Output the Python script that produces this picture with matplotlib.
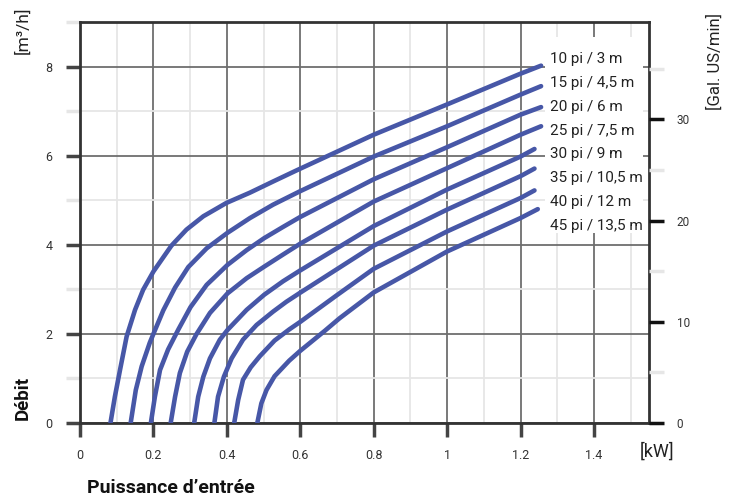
import numpy as np
import matplotlib.pyplot as plt
from matplotlib.patches import Rectangle

plt.rcParams['font.family'] = ['Roboto', 'DejaVu Sans']

# power [kW] and flow [m3/h], one pair per head
labels = ['10 pi / 3 m', '15 pi / 4,5 m', '20 pi / 6 m', '25 pi / 7,5 m',
          '30 pi / 9 m', '35 pi / 10,5 m', '40 pi / 12 m', '45 pi / 13,5 m']

kw_10 = [0.083, 0.095, 0.109, 0.127, 0.150, 0.172, 0.200, 0.227, 0.249, 0.290, 0.336,
         0.399, 0.463, 0.526, 0.590, 0.8, 1.0, 1.2, 1.256]
q_10 = [0, 0.59, 1.19, 1.94, 2.54, 2.99, 3.40, 3.72, 3.98, 4.34, 4.64,
        4.94, 5.17, 5.42, 5.67, 6.47, 7.15, 7.84, 8.02]

kw_15 = [0.138, 0.152, 0.168, 0.190, 0.201, 0.227, 0.259, 0.295, 0.345, 0.402, 0.463,
         0.526, 0.599, 0.8, 1.0, 1.2, 1.256]
q_15 = [0, 0.74, 1.27, 1.80, 2.02, 2.53, 3.04, 3.50, 3.92, 4.27, 4.60,
        4.90, 5.20, 5.98, 6.66, 7.37, 7.56]

kw_20 = [0.193, 0.204, 0.218, 0.240, 0.268, 0.301, 0.345, 0.402, 0.454, 0.502, 0.553,
         0.599, 0.8, 1.0, 1.2, 1.256]
q_20 = [0, 0.59, 1.19, 1.65, 2.10, 2.60, 3.10, 3.55, 3.88, 4.15, 4.40,
        4.62, 5.47, 6.19, 6.92, 7.09]

kw_25 = [0.247, 0.259, 0.272, 0.292, 0.317, 0.354, 0.402, 0.454, 0.502, 0.553, 0.599,
         0.8, 1.0, 1.2, 1.256]
q_25 = [0, 0.59, 1.12, 1.60, 1.99, 2.47, 2.91, 3.25, 3.51, 3.78, 4.02,
        4.97, 5.72, 6.47, 6.66]

kw_30 = [0.311, 0.322, 0.336, 0.354, 0.381, 0.402, 0.454, 0.502, 0.553, 0.599,
         0.8, 1.0, 1.2, 1.238]
q_30 = [0, 0.59, 1.04, 1.45, 1.87, 2.09, 2.54, 2.88, 3.18, 3.42,
        4.42, 5.24, 5.98, 6.15]

kw_35 = [0.366, 0.376, 0.392, 0.413, 0.444, 0.481, 0.526, 0.562, 0.599,
         0.8, 1.0, 1.2, 1.238]
q_35 = [0, 0.59, 1.04, 1.45, 1.87, 2.20, 2.50, 2.72, 2.92,
        3.98, 4.79, 5.54, 5.71]

kw_40 = [0.420, 0.431, 0.444, 0.465, 0.490, 0.530, 0.570, 0.600, 0.700, 0.8, 1.0, 1.2, 1.238]
q_40 = [0, 0.52, 0.97, 1.25, 1.50, 1.85, 2.10, 2.27, 2.87, 3.46, 4.30, 5.05, 5.22]

kw_45 = [0.483, 0.494, 0.508, 0.530, 0.570, 0.600, 0.667, 0.707, 0.8, 1.0, 1.2, 1.247]
q_45 = [0, 0.44, 0.74, 1.05, 1.40, 1.62, 2.07, 2.35, 2.93, 3.85, 4.60, 4.80]

kws = [kw_10, kw_15, kw_20, kw_25, kw_30, kw_35, kw_40, kw_45]
qs = [q_10, q_15, q_20, q_25, q_30, q_35, q_40, q_45]

x_ticks = [0, 0.2, 0.4, 0.6, 0.8, 1.0, 1.2, 1.4]
x_ticklabels = ['0', '0.2', '0.4', '0.6', '0.8', '1', '1.2', '1.4']
y_ticks = [0, 2, 4, 6, 8]
gal_ticks = [0, 10, 20, 30]
M3H_TO_GPM = 4.40287

blue = '#4757a7'
dark = '#444444'
light = '#e6e6e6'

fig = plt.figure(figsize=(7.4, 5.01), dpi=100)
ax = fig.add_axes([80 / 740, 78 / 501, 569 / 740, 401 / 501])
ax.set_xlim(0, 1.55)
ax.set_ylim(0, 9)

ax.set_xticks(x_ticks)
ax.set_xticklabels(x_ticklabels)
ax.set_xticks(np.arange(0.1, 1.55, 0.2), minor=True)
ax.set_yticks(y_ticks)
ax.set_yticks([1, 3, 5, 7, 9], minor=True)

ax.set_axisbelow(True)
ax.grid(which='minor', color=light, lw=1.3)
ax.grid(which='major', color='#6e6e6e', lw=1.3)

ax.tick_params(axis='x', which='major', length=10, width=2.5, color=dark,
               pad=9, labelsize=9, labelcolor='#333333')
ax.tick_params(axis='x', which='minor', length=0)
ax.tick_params(axis='y', which='major', length=10, width=2.5, color=dark,
               pad=10, labelsize=9, labelcolor='#333333')
ax.tick_params(axis='y', which='minor', length=10, width=2.5, color=light)

for s in ax.spines.values():
    s.set_color('#333333')
    s.set_linewidth(2)

for kw, q in zip(kws, qs):
    ax.plot(kw, q, color=blue, lw=3.3, solid_capstyle='round',
            solid_joinstyle='round', zorder=3)

# white panel behind the curve labels
ax.add_patch(Rectangle((0.817, 0.474), 0.172, 0.489, transform=ax.transAxes,
                       facecolor='white', edgecolor='none', zorder=2))
for i, lab in enumerate(labels):
    ax.text(0.826, 0.908 - i * 0.0596, lab, transform=ax.transAxes,
            ha='left', va='center', fontsize=11, color='#222222', zorder=4)

ax2 = ax.twinx()
ax2.set_ylim(0, 9 * M3H_TO_GPM)
ax2.set_yticks(gal_ticks)
ax2.set_yticks([5, 15, 25, 35], minor=True)
ax2.tick_params(axis='y', which='major', length=11, width=2.5, color='#111111',
                pad=9, labelsize=8.5, labelcolor='#333333')
ax2.tick_params(axis='y', which='minor', length=11, width=2.5, color=light)
for s in ax2.spines.values():
    s.set_visible(False)

fig.text(22 / 740, 1 - 30 / 501, '[m³/h]', rotation=90, ha='center', va='center',
         fontsize=12.5, color='#222222')
fig.text(23 / 740, 1 - 398 / 501, 'Débit', rotation=90, ha='center', va='center',
         fontsize=13.5, fontweight='bold', color='#111111')
fig.text(715 / 740, 1 - 61 / 501, '[Gal. US/min]', rotation=90, ha='center', va='center',
         fontsize=12, color='#222222')
fig.text(657 / 740, 1 - 452 / 501, '[kW]', ha='center', va='center',
         fontsize=13, color='#222222')
fig.text(87 / 740, 1 - 488 / 501, 'Puissance d’entrée', ha='left', va='center',
         fontsize=14, fontweight='bold', color='#111111')

fig.savefig('out.png', dpi=100)
